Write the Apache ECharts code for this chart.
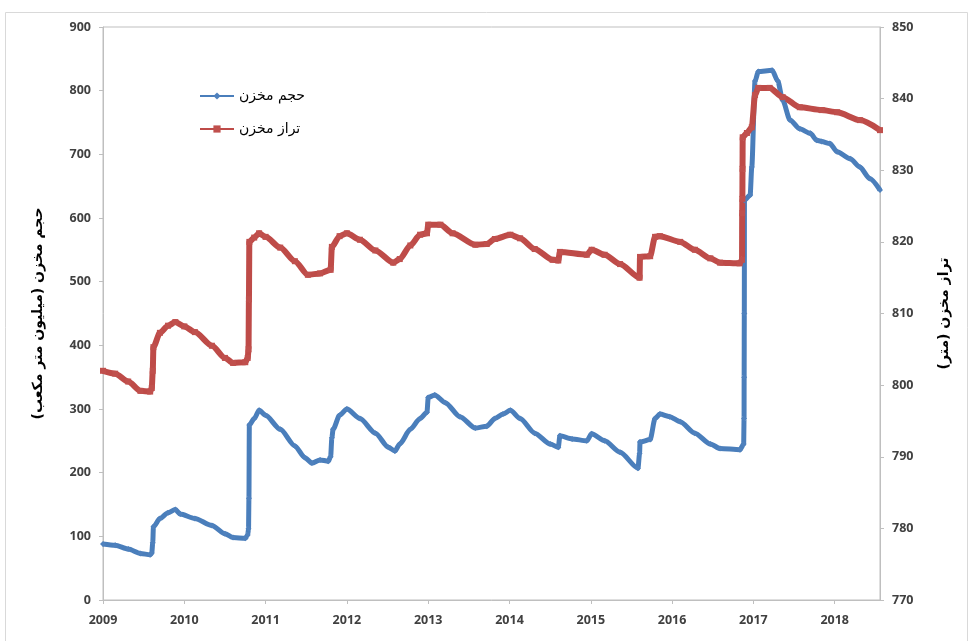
<!DOCTYPE html>
<html>
<head>
<meta charset="utf-8">
<script src="https://cdn.jsdelivr.net/npm/echarts@6/dist/echarts.min.js"></script>
<style>
  html, body { margin: 0; padding: 0; background: #ffffff; }
  #chart { width: 972px; height: 641px; }
</style>
</head>
<body>
<div id="chart"></div>
<script>
// Reservoir storage volume (million m3) and water level (m), 2009 - mid 2018
const volumeYears = [
  2009.00, 2009.15, 2009.31, 2009.46, 2009.58, 2009.60, 2009.612, 2009.62, 2009.70, 2009.80,
  2009.89, 2009.95, 2010.13, 2010.34, 2010.50, 2010.60, 2010.75, 2010.78, 2010.79, 2010.795,
  2010.80, 2010.86, 2010.92, 2011.00, 2011.18, 2011.36, 2011.48, 2011.57, 2011.67, 2011.77,
  2011.80, 2011.815, 2011.83, 2011.91, 2012.00, 2012.16, 2012.35, 2012.51, 2012.59, 2012.65,
  2012.78, 2012.90, 2012.985, 2013.00, 2013.08, 2013.21, 2013.39, 2013.58, 2013.72, 2013.82,
  2013.92, 2014.01, 2014.13, 2014.31, 2014.50, 2014.60, 2014.62, 2014.77, 2014.95, 2015.01,
  2015.17, 2015.36, 2015.58, 2015.60, 2015.605, 2015.73, 2015.79, 2015.85, 2015.97, 2016.10,
  2016.28, 2016.47, 2016.59, 2016.835, 2016.88, 2016.885, 2016.886, 2016.888, 2016.89, 2016.96,
  2016.98, 2017.02, 2017.06, 2017.23, 2017.30, 2017.36, 2017.45, 2017.57, 2017.70, 2017.78,
  2017.84, 2017.94, 2018.03, 2018.19, 2018.31, 2018.43, 2018.557
];
const volumeValues = [
  88, 86, 80, 73, 71, 74, 90, 115, 128, 137,
  142, 135, 128, 117, 104, 98, 97, 102, 112, 160,
  275, 285, 298, 290, 268, 242, 224, 215, 220, 218,
  225, 255, 268, 290, 300, 285, 262, 240, 234, 245,
  268, 285, 295, 318, 322, 310, 288, 270, 273, 285,
  292, 298, 285, 262, 245, 240, 258, 253, 250, 261,
  250, 232, 207, 230, 248, 252, 285, 292, 288, 280,
  262, 245, 238, 236, 245, 285, 350, 450, 628, 636,
  680, 815, 830, 832, 815, 785, 754, 740, 733, 722,
  720, 717, 704, 693, 680, 662, 644
];

const levelYears = [
  2009.00, 2009.15, 2009.31, 2009.46, 2009.58, 2009.60, 2009.612, 2009.62, 2009.70, 2009.80,
  2009.89, 2010.00, 2010.13, 2010.34, 2010.50, 2010.60, 2010.75, 2010.78, 2010.79, 2010.795,
  2010.80, 2010.86, 2010.92, 2011.00, 2011.18, 2011.36, 2011.52, 2011.67, 2011.80, 2011.815,
  2011.91, 2012.00, 2012.16, 2012.35, 2012.57, 2012.65, 2012.78, 2012.90, 2012.985, 2013.00,
  2013.15, 2013.30, 2013.58, 2013.72, 2013.82, 2014.01, 2014.13, 2014.31, 2014.53, 2014.60,
  2014.62, 2014.95, 2015.01, 2015.17, 2015.36, 2015.60, 2015.605, 2015.73, 2015.79, 2015.85,
  2016.10, 2016.28, 2016.47, 2016.59, 2016.83, 2016.86, 2016.862, 2016.864, 2016.866, 2016.868,
  2016.92, 2016.98, 2017.02, 2017.06, 2017.20, 2017.36, 2017.57, 2017.84, 2018.03, 2018.31,
  2018.557
];
const levelValues = [
  802.0, 801.6, 800.5, 799.2, 799.1, 799.6, 802.0, 805.3, 807.3, 808.3,
  808.8, 808.2, 807.4, 805.5, 803.8, 803.1, 803.2, 803.8, 805.0, 812.0,
  820.0, 820.6, 821.2, 820.7, 819.2, 817.3, 815.4, 815.6, 816.1, 819.3,
  820.8, 821.2, 820.3, 818.8, 817.1, 817.6, 819.5, 821.0, 821.2, 822.4,
  822.4, 821.2, 819.6, 819.7, 820.4, 821.0, 820.5, 819.0, 817.5, 817.4,
  818.6, 818.2, 818.9, 818.2, 816.9, 815.0, 817.9, 818.0, 820.7, 820.8,
  820.0, 818.9, 817.7, 817.1, 817.0, 817.5, 824.0, 826.0, 830.2, 834.6,
  835.2, 836.0, 840.5, 841.5, 841.5, 840.2, 838.8, 838.4, 838.1, 837.0,
  835.6
];

const volumeTicks = [0, 100, 200, 300, 400, 500, 600, 700, 800, 900];
const levelTicks = [770, 780, 790, 800, 810, 820, 830, 840, 850];
const yearTicks = [2009, 2010, 2011, 2012, 2013, 2014, 2015, 2016, 2017, 2018];

const volumeName = 'حجم مخزن';
const levelName = 'تراز مخزن';
const volumeAxisName = 'حجم مخزن (میلیون متر مکعب)';
const levelAxisName = 'تراز مخزن (متر)';

const pairs = (xs, ys) => xs.map((x, i) => [x, ys[i]]);

const axisGrey = '#bfbfbf';
const labelStyle = {
  color: '#404040',
  fontFamily: 'Open Sans, Liberation Sans, sans-serif',
  fontWeight: 'bold',
  fontSize: 12.5
};
const arabicFont = 'DejaVu Sans, Noto Sans, sans-serif';

const chart = echarts.init(document.getElementById('chart'), null, { renderer: 'canvas' });

chart.setOption({
  backgroundColor: '#ffffff',
  animation: false,
  graphic: [{
    type: 'rect',
    shape: { x: 5.5, y: 12.5, width: 962, height: 650 },
    style: { fill: 'none', stroke: '#d9d9d9', lineWidth: 1 },
    silent: true,
    z: -1
  }],
  grid: {
    left: 103, right: 92, top: 27, bottom: 41,
    show: true, borderColor: axisGrey, borderWidth: 1
  },
  legend: {
    orient: 'vertical',
    left: 194, top: 84,
    itemGap: 19,
    itemWidth: 34, itemHeight: 9,
    textStyle: { fontFamily: arabicFont, fontSize: 14, color: '#000' },
    data: [volumeName, levelName]
  },
  xAxis: {
    type: 'value',
    min: yearTicks[0],
    max: 2018.557,
    interval: 1,
    axisLine: { lineStyle: { color: axisGrey } },
    axisTick: { length: 4, lineStyle: { color: axisGrey } },
    splitLine: { show: false },
    axisLabel: Object.assign({}, labelStyle, {
      margin: 14,
      showMaxLabel: false,
      formatter: v => (yearTicks.includes(v) ? String(v) : '')
    })
  },
  yAxis: [{
    type: 'value',
    min: volumeTicks[0],
    max: volumeTicks[volumeTicks.length - 1],
    interval: 100,
    position: 'left',
    name: volumeAxisName,
    nameLocation: 'middle',
    nameRotate: 90,
    nameGap: 58,
    nameTextStyle: { fontFamily: arabicFont, fontWeight: 'bold', fontSize: 14, color: '#000' },
    axisLine: { show: true, lineStyle: { color: axisGrey } },
    axisTick: { show: true, length: 4, lineStyle: { color: axisGrey } },
    splitLine: { show: false },
    axisLabel: Object.assign({}, labelStyle, { margin: 12 })
  }, {
    type: 'value',
    min: levelTicks[0],
    max: levelTicks[levelTicks.length - 1],
    interval: 10,
    position: 'right',
    name: levelAxisName,
    nameLocation: 'middle',
    nameRotate: 90,
    nameGap: 57,
    nameTextStyle: { fontFamily: arabicFont, fontWeight: 'bold', fontSize: 14, color: '#000' },
    axisLine: { show: true, lineStyle: { color: axisGrey } },
    axisTick: { show: true, length: 4, lineStyle: { color: axisGrey } },
    splitLine: { show: false },
    axisLabel: Object.assign({}, labelStyle, { margin: 12 })
  }],
  series: [{
    name: volumeName,
    type: 'line',
    yAxisIndex: 0,
    data: pairs(volumeYears, volumeValues),
    smooth: 0.25,
    smoothMonotone: 'x',
    symbol: 'diamond',
    symbolSize: 6,
    showSymbol: true,
    showAllSymbol: true,
    lineStyle: { color: '#4a7ebb', width: 5 },
    itemStyle: { color: '#4f81bd', borderColor: '#4a7ebb', borderWidth: 0 }
  }, {
    name: levelName,
    type: 'line',
    yAxisIndex: 1,
    data: pairs(levelYears, levelValues),
    smooth: 0.25,
    smoothMonotone: 'x',
    symbol: 'rect',
    symbolSize: 6,
    showSymbol: true,
    showAllSymbol: true,
    lineStyle: { color: '#be4b48', width: 6 },
    itemStyle: { color: '#c0504d', borderColor: '#be4b48', borderWidth: 0 }
  }]
});
</script>
</body>
</html>
